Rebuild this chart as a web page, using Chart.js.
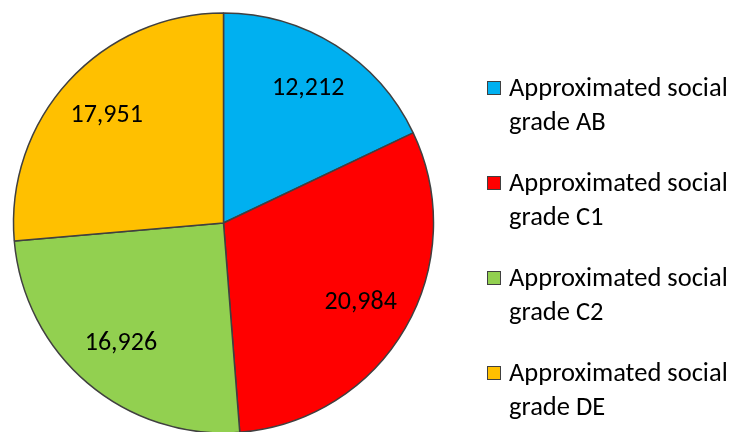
<!DOCTYPE html>
<html>
<head>
<meta charset="utf-8">
<script src="https://cdn.jsdelivr.net/npm/chart.js@4/dist/chart.umd.min.js"></script>
<style>
    html, body { margin: 0; padding: 0; background: #fff; overflow: hidden; }
    #wrap { position: relative; width: 732px; height: 432px; }
</style>
</head>
<body>
<div id="wrap"><canvas id="pie" width="732" height="432"></canvas></div>
<script>
const categories = ["Approximated social grade AB", "Approximated social grade C1", "Approximated social grade C2", "Approximated social grade DE"];
const legendLines = [["Approximated social", "grade AB"], ["Approximated social", "grade C1"], ["Approximated social", "grade C2"], ["Approximated social", "grade DE"]];
const values = [12212, 20984, 16926, 17951];
const colors = ["#00B0F0", "#FF0000", "#92D050", "#FFC000"];

const FONT = "Carlito, Calibri, Lato, sans-serif";

// value labels inside slices
const sliceLabels = {
    id: "sliceLabels",
    afterDatasetsDraw(chart) {
        const ctx = chart.ctx;
        const meta = chart.getDatasetMeta(0);
        ctx.save();
        ctx.font = "26px " + FONT;
        ctx.fillStyle = "#000";
        ctx.textAlign = "center";
        ctx.textBaseline = "middle";
        meta.data.forEach((arc, i) => {
            const mid = (arc.startAngle + arc.endAngle) / 2;
            const r = arc.outerRadius * 0.755;
            ctx.fillText(values[i].toLocaleString("en-US"), arc.x + Math.cos(mid) * r, arc.y + Math.sin(mid) * r);
        });
        ctx.restore();
    }
};

// legend on the right, two lines per entry
const sideLegend = {
    id: "sideLegend",
    afterDraw(chart) {
        const ctx = chart.ctx;
        ctx.save();
        ctx.font = "26.5px " + FONT;
        ctx.textBaseline = "alphabetic";
        legendLines.forEach((lines, i) => {
            const base = 96 + i * 95;
            ctx.fillStyle = colors[i];
            ctx.fillRect(487, base - 15, 14, 14);
            ctx.strokeStyle = "#404040";
            ctx.lineWidth = 1;
            ctx.strokeRect(487.5, base - 14.5, 13, 13);
            ctx.fillStyle = "#000";
            ctx.fillText(lines[0], 509, base);
            ctx.fillText(lines[1], 509, base + 34);
        });
        ctx.restore();
    }
};

new Chart(document.getElementById("pie").getContext("2d"), {
    type: "pie",
    data: {
        labels: categories,
        datasets: [
            {
                data: values,
                backgroundColor: colors,
                borderColor: "#404040",
                borderWidth: 1.5,
                radius: 210,
            },
        ],
    },
    options: {
        responsive: false,
        animation: false,
        events: [],
        layout: { padding: { left: 12, right: 297, top: 14, bottom: 0 } },
        plugins: { legend: { display: false }, tooltip: { enabled: false } },
    },
    plugins: [sliceLabels, sideLegend],
});
</script>
</body>
</html>
